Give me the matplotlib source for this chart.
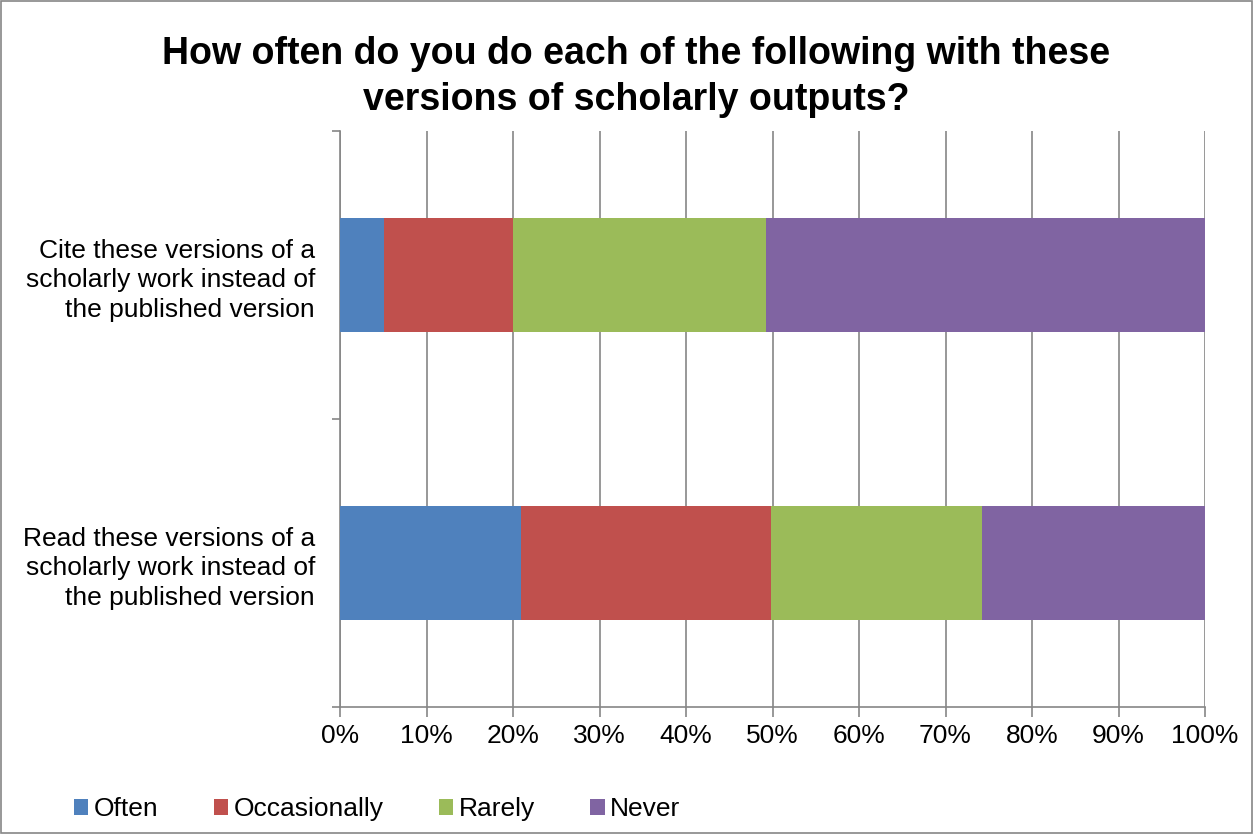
import matplotlib.pyplot as plt
import numpy as np

plt.rcParams['font.family'] = ['Liberation Sans', 'DejaVu Sans']

categories = ['Read these versions of a\nscholarly work instead of\nthe published version',
              'Cite these versions of a\nscholarly work instead of\nthe published version']
series = ['Often', 'Occasionally', 'Rarely', 'Never']
colors = ['#4F81BD', '#C0504D', '#9BBB59', '#8064A2']
values = {
    'Often':        [20.96, 5.1],
    'Occasionally': [28.87, 14.9],
    'Rarely':       [24.4, 29.25],
    'Never':        [25.77, 50.75],
}

fig = plt.figure(figsize=(12.53, 8.34), dpi=100)
ax = fig.add_axes([340/1253, 1-707/834, 865/1253, 576/834])

y = np.arange(len(categories))
left = np.zeros(len(categories))
for name, col in zip(series, colors):
    v = np.array(values[name])
    ax.barh(y, v, left=left, height=0.396, color=col, label=name, zorder=3)
    left += v

ax.set_xlim(0, 100)
ax.set_ylim(-0.5, 1.5)
ax.set_xticks(np.arange(0, 101, 10))
ax.set_xticklabels([f'{t}%' for t in range(0, 101, 10)], fontsize=19)
ax.set_yticks([-0.5, 0.5, 1.5])
ax.set_yticklabels([])
ax.set_yticks(y, minor=True)
ax.set_yticklabels(categories, minor=True, fontsize=19, ha='right', linespacing=1.31)
ax.tick_params(axis='y', which='minor', length=0, pad=18)
ax.tick_params(axis='y', which='major', length=6, color='#868686', width=1.2)
ax.tick_params(axis='x', length=7, color='#868686', width=1.2, pad=5)
ax.grid(axis='x', color='#868686', linewidth=1.2, zorder=0)
for s in ['top', 'right']:
    ax.spines[s].set_visible(False)
for s in ['left', 'bottom']:
    ax.spines[s].set_color('#868686')
    ax.spines[s].set_linewidth(1.2)

fig.text(0.508, 1-77/834, 'How often do you do each of the following with these\nversions of scholarly outputs?',
         ha='center', va='center', fontsize=27, fontweight='bold', linespacing=1.38)

leg = fig.legend(loc='center left', bbox_to_anchor=(50/1253, 1-809/834), ncol=4, frameon=False,
                 fontsize=19, handlelength=0.55, handleheight=0.55, handletextpad=0.2,
                 columnspacing=2.1)

fig.patches.append(plt.Rectangle((0.001, 0.001), 0.998, 0.998, transform=fig.transFigure,
                                 fill=False, edgecolor='#868686', linewidth=1.2))

fig.savefig('out.png', dpi=100)
